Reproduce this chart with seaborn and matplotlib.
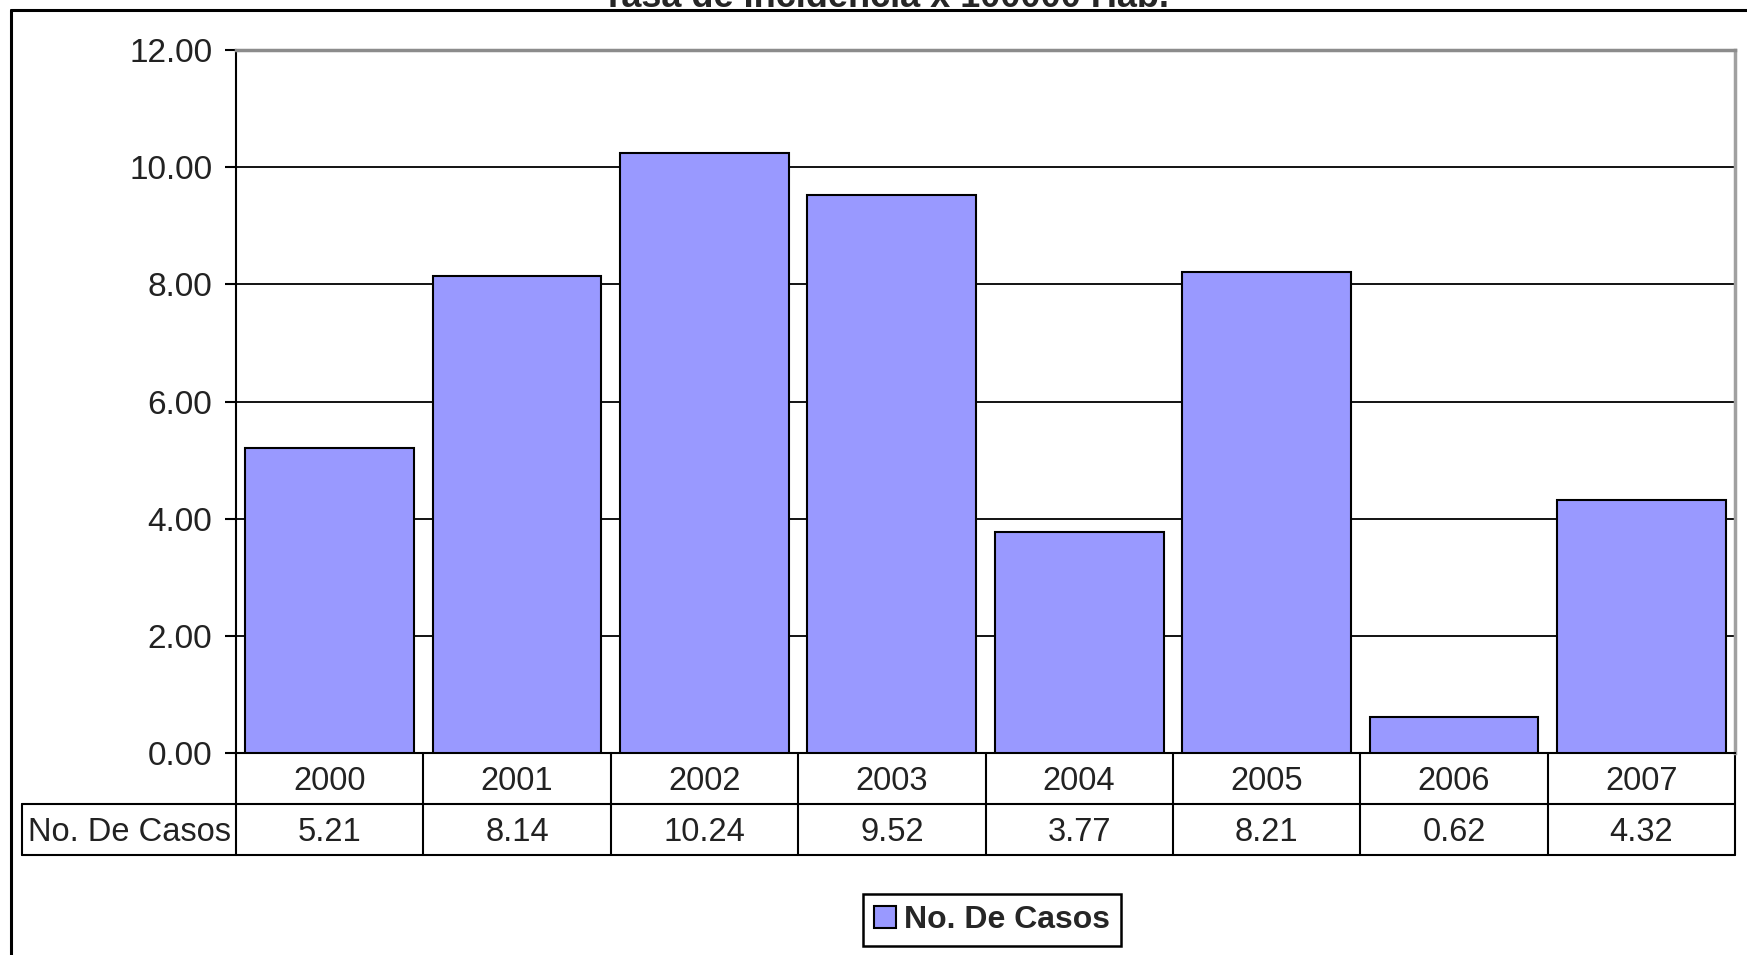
import seaborn as sns
import matplotlib.pyplot as plt
from matplotlib.lines import Line2D

years = ['2000', '2001', '2002', '2003', '2004', '2005', '2006', '2007']
casos = [5.21, 8.14, 10.24, 9.52, 3.77, 8.21, 0.62, 4.32]
serie = 'No. De Casos'
titulo = 'Tasa de Incidencia x 100000 Hab.'

W, H = 1747, 955

sns.set_style('white')
plt.rcParams['font.family'] = ['Liberation Sans', 'DejaVu Sans']

fig = plt.figure(figsize=(W / 100, H / 100), dpi=100)
ax = fig.add_axes([236 / W, 1 - 753 / H, (1735 - 236) / W, (753 - 50) / H])

sns.barplot(x=years, y=casos, color='#9999FF', saturation=1, width=0.9,
            edgecolor='black', linewidth=1.5, ax=ax, zorder=3)

ax.set_xlim(-0.5, 7.5)
ax.set_ylim(0, 12)
ax.set_yticks(range(0, 13, 2))
ax.set_yticklabels([f'{v:.2f}' for v in range(0, 13, 2)], fontsize=24, color='#222222')
ax.set_xticks([])
ax.set_xlabel('')
ax.set_ylabel('')
ax.tick_params(axis='y', direction='out', length=8, width=1.5, color='black', pad=9, left=True)
for y in range(2, 12, 2):
    ax.axhline(y, color='black', lw=1.3, zorder=1)

ax.spines['left'].set_color('black')
ax.spines['left'].set_linewidth(1.5)
ax.spines['bottom'].set_color('black')
ax.spines['bottom'].set_linewidth(1.5)
ax.spines['top'].set_color('#8c8c8c')
ax.spines['top'].set_linewidth(2.5)
ax.spines['right'].set_color('#a0a0a0')
ax.spines['right'].set_linewidth(2.5)

# data table under the plot
axh = 753 - 50
r1 = -(804 - 753) / axh
r2 = -(855 - 753) / axh
left_cell = (22 - 236) / (1735 - 236)
xt = ax.get_xaxis_transform()
lk = dict(color='black', lw=1.5, clip_on=False)
ax.plot([-0.5, 7.5], [r1, r1], transform=xt, **lk)
ax.plot([-0.5, 7.5], [r2, r2], transform=xt, **lk)
ax.plot([left_cell, 0], [r1, r1], transform=ax.transAxes, **lk)
ax.plot([left_cell, 0], [r2, r2], transform=ax.transAxes, **lk)
ax.plot([left_cell, left_cell], [r1, r2], transform=ax.transAxes, **lk)
for b in range(len(years) + 1):
    ax.plot([b - 0.5, b - 0.5], [0, r2], transform=xt, **lk)
for i, (yr, v) in enumerate(zip(years, casos)):
    ax.text(i, r1 / 2 - 0.004, yr, transform=xt, ha='center', va='center', fontsize=23.5, color='#222222')
    ax.text(i, (r1 + r2) / 2 - 0.004, f'{v:.2f}', transform=xt, ha='center', va='center',
            fontsize=23.5, color='#222222')
ax.text(left_cell / 2, (r1 + r2) / 2 - 0.004, serie, transform=ax.transAxes, ha='center', va='center',
        fontsize=23.5, color='#222222')

leg = ax.legend([ax.patches[0]], [serie], loc='center', bbox_to_anchor=(992 / W, 1 - 920 / H),
                bbox_transform=fig.transFigure, fancybox=False, framealpha=1, edgecolor='black',
                handlelength=0.7, handleheight=0.7, handletextpad=0.25, borderpad=0.35,
                prop={'size': 23, 'weight': 'bold'})
leg.get_frame().set_linewidth(1.8)

# outer chart frame and the clipped title
fig.add_artist(Line2D([11 / W, 1], [1 - 10 / H, 1 - 10 / H], transform=fig.transFigure, color='black', lw=2.2))
fig.add_artist(Line2D([11 / W, 11 / W], [1 - 10 / H, 0], transform=fig.transFigure, color='black', lw=2.2))
fig.text(886 / W, 1 - 7 / H, titulo, ha='center', va='baseline', fontsize=26, weight='bold')

fig.savefig('out.png', dpi=100, facecolor='white')
